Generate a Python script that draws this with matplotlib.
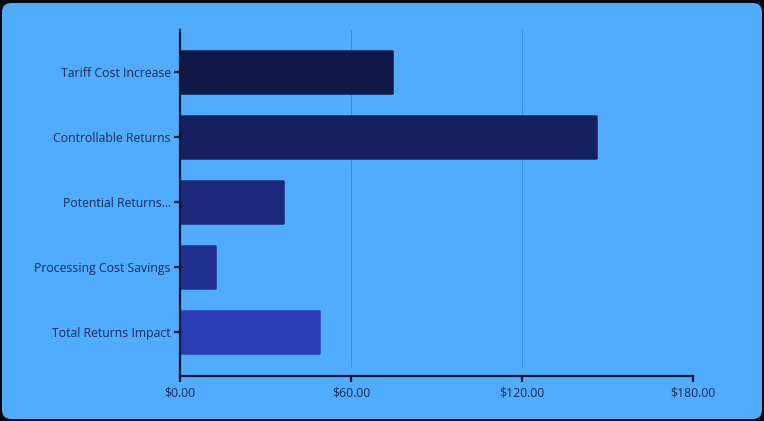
import matplotlib
matplotlib.use("Agg")
import matplotlib.pyplot as plt
from matplotlib.patches import FancyBboxPatch
from matplotlib.ticker import FuncFormatter

categories = ["Tariff Cost Increase", "Controllable Returns", "Potential Returns...",
              "Processing Cost Savings", "Total Returns Impact"]
values = [74.5, 145.8, 36.3, 12.3, 48.8]
bar_colors = ["#121845", "#16205e", "#1c287a", "#213090", "#2a3db5"]
x_ticks = [0, 60, 120, 180]

bg = "#4facff"
ink = "#0e1634"

plt.rcParams['font.family'] = ['Open Sans', 'DejaVu Sans']

fig = plt.figure(figsize=(7.64, 4.21), dpi=100)
fig.patch.set_facecolor("#05070c")
card = FancyBboxPatch((2 / 764, 2 / 421), 760 / 764, 416 / 421,
                      boxstyle="round,pad=0,rounding_size=0.012",
                      transform=fig.transFigure, facecolor=bg, edgecolor="none",
                      mutation_aspect=764 / 421, zorder=-10)
fig.patches.append(card)

ax = fig.add_axes([180 / 764, 1 - 376 / 421, 513 / 764, 346 / 421])
ax.set_facecolor("none")
ax.set_zorder(5)

pos = list(range(len(categories)))
bars = ax.barh(pos, values, height=0.66, color=bar_colors, edgecolor=bar_colors,
               linewidth=1.8, zorder=3)
for b in bars:
    b.set_joinstyle("round")

ax.set_xlim(0, 180)
ax.set_ylim(4.677, -0.646)
ax.set_yticks(pos)
ax.set_yticklabels(categories)
ax.set_xticks(x_ticks)
ax.xaxis.set_major_formatter(FuncFormatter(lambda v, p: "${:.2f}".format(v)))

# gridlines stop a little above the x axis line
ax.vlines(x_ticks[1:], 0.026, 1, transform=ax.get_xaxis_transform(),
          color="#3b8fd8", linewidth=0.8, zorder=1)

for s in ["top", "right"]:
    ax.spines[s].set_visible(False)
for s in ["left", "bottom"]:
    ax.spines[s].set_color(ink)
    ax.spines[s].set_linewidth(1.6)
    ax.spines[s].set_zorder(4)

ax.tick_params(axis="both", colors=ink, width=1.6, length=4.5, labelsize=8.8,
               labelcolor="#1a2a55", pad=2)
ax.tick_params(axis="x", pad=3)

fig.savefig("out.png", dpi=100, facecolor=fig.get_facecolor())
